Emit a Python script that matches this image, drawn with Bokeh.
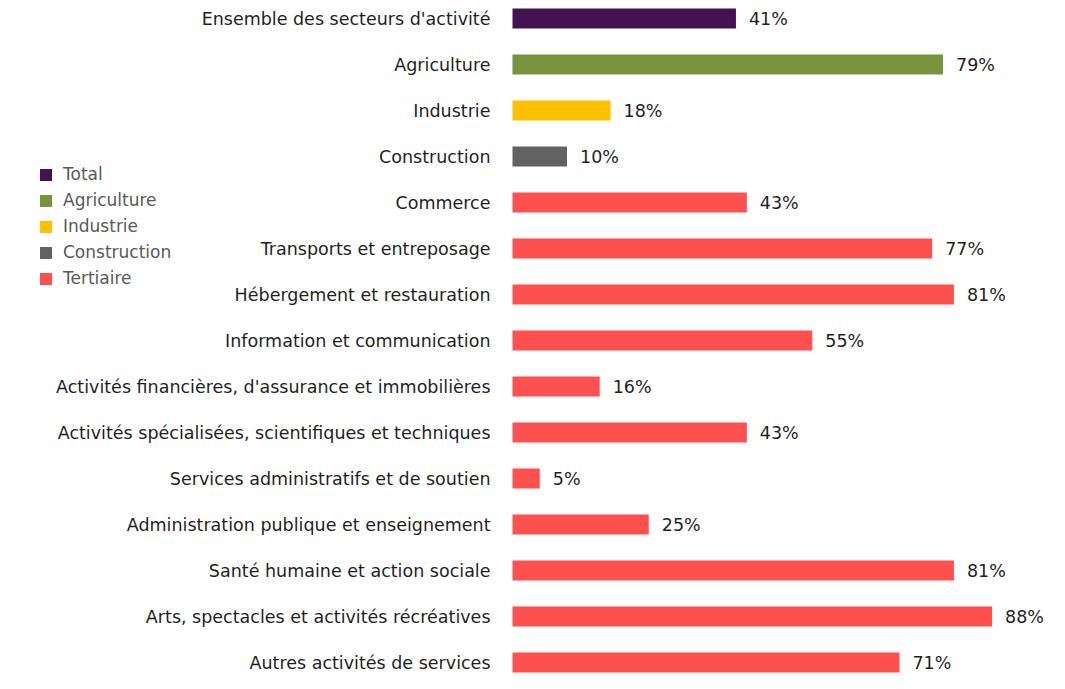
from bokeh.plotting import figure
from bokeh.models import ColumnDataSource, Range1d, Legend, LegendItem
from bokeh.core.properties import value
from bokeh.embed import file_html
from bokeh.resources import INLINE

categories = [
    "Ensemble des secteurs d'activité",
    "Agriculture",
    "Industrie",
    "Construction",
    "Commerce",
    "Transports et entreposage",
    "Hébergement et restauration",
    "Information et communication",
    "Activités financières, d'assurance et immobilières",
    "Activités spécialisées, scientifiques et techniques",
    "Services administratifs et de soutien",
    "Administration publique et enseignement",
    "Santé humaine et action sociale",
    "Arts, spectacles et activités récréatives",
    "Autres activités de services",
]
values = [41, 79, 18, 10, 43, 77, 81, 55, 16, 43, 5, 25, 81, 88, 71]
groups = ["Total", "Agriculture", "Industrie", "Construction"] + ["Tertiaire"] * 11
group_colors = {
    "Total": "#441151",
    "Agriculture": "#77933C",
    "Industrie": "#FFC000",
    "Construction": "#626262",
    "Tertiaire": "#FF5050",
}

src = ColumnDataSource(dict(
    y=list(range(len(categories))),
    v=values,
    cat=categories,
    grp=groups,
    col=[group_colors[g] for g in groups],
    lab=[f"{v}%" for v in values],
    zero=[0] * len(values),
))

W, H = 1049, 673
px_per = 5.45
row = 46.0
x0 = 512.0
y0 = 18.0
FONT = "DejaVu Sans"

p = figure(width=W, height=H, output_backend="svg", toolbar_location=None,
           x_range=Range1d(-x0 / px_per, (W - x0) / px_per),
           y_range=Range1d((H - y0) / row, -y0 / row),
           min_border=0, min_border_left=0, min_border_right=0,
           min_border_top=0, min_border_bottom=0)
p.axis.visible = False
p.grid.visible = False
p.outline_line_color = None
p.background_fill_color = "white"

r = p.hbar(y="y", right="v", left=0, height=20 / row, color="col",
           line_color=None, source=src)

p.text(x="zero", y="y", text="cat", source=src, text_align="right",
       text_baseline="middle", x_offset=-22, text_color="#1f1f1f",
       text_font=value(FONT), text_font_size="17.5px")

p.text(x="v", y="y", text="lab", source=src, text_align="left",
       text_baseline="middle", x_offset=13, text_color="#1f1f1f",
       text_font=value(FONT), text_font_size="17.5px")

items = []
seen = []
for i, g in enumerate(groups):
    if g not in seen:
        seen.append(g)
        items.append(LegendItem(label=g, renderers=[r], index=i))

legend = Legend(items=items, location=(38, 385),
                glyph_width=15, glyph_height=15, label_standoff=10,
                spacing=6, padding=0, margin=0, label_height=20,
                label_text_font=FONT, label_text_font_size="17px",
                label_text_color="#595959",
                border_line_color=None, background_fill_alpha=0)
p.add_layout(legend)

open("out.html", "w").write(file_html(p, INLINE))
